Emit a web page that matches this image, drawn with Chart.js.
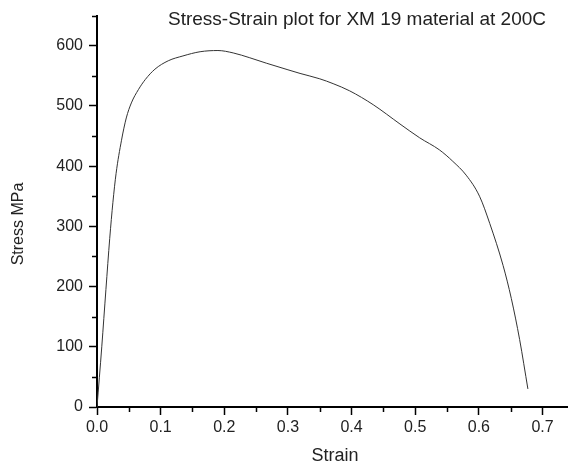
<!DOCTYPE html>
<html>
<head>
<meta charset="utf-8">
<script src="https://cdn.jsdelivr.net/npm/chart.js@4.4.1/dist/chart.umd.min.js"></script>
<style>
html,body{margin:0;padding:0;background:#fff;}
#wrap{width:568px;height:468px;}
</style>
</head>
<body>
<div id="wrap"><canvas id="c" width="568" height="468"></canvas></div>
<script>
const titleText = "Stress-Strain plot for XM 19 material at 200C";
const xAxisTitle = "Strain";
const yAxisTitle = "Stress MPa";
const strain = [0.0, 0.0075, 0.014, 0.020, 0.025, 0.030, 0.0385, 0.046, 0.054, 0.065, 0.076, 0.091, 0.112, 0.135, 0.162, 0.19, 0.214, 0.24, 0.266, 0.30, 0.319, 0.35, 0.371, 0.397, 0.434, 0.476, 0.507, 0.538, 0.559, 0.58, 0.601, 0.617, 0.638, 0.651, 0.664, 0.677];
const stress = [0, 100, 195, 280, 340, 388, 443, 480, 505, 527, 544, 561, 575, 583, 590, 592, 588, 580, 571, 560, 554, 545, 537, 525, 502, 470, 447, 427, 408, 385, 350, 305, 235, 180, 112, 30];
const xMajorTicks = [0.0, 0.1, 0.2, 0.3, 0.4, 0.5, 0.6, 0.7];
const xMinorTicks = [0.05, 0.15, 0.25, 0.35, 0.45, 0.55, 0.65];
const yMajorTicks = [0, 100, 200, 300, 400, 500, 600];
const yMinorTicks = [50, 150, 250, 350, 450, 550, 650];

const pts = strain.map((s, i) => ({x: s, y: stress[i]}));
const FONT = "'Liberation Sans', Arial, sans-serif";
const TXT = '#222';

const extrasPlugin = {
  id: 'extras',
  afterDraw(chart) {
    const ctx = chart.ctx;
    const xs = chart.scales.x, ys = chart.scales.y;
    const ca = chart.chartArea;
    ctx.save();
    ctx.strokeStyle = '#000';
    ctx.lineWidth = 1.5;
    ctx.beginPath();
    xMinorTicks.forEach(v => {
      const px = Math.round(xs.getPixelForValue(v)) + 0.5;
      ctx.moveTo(px, ca.bottom);
      ctx.lineTo(px, ca.bottom + 5);
    });
    yMinorTicks.forEach(v => {
      const py = Math.round(ys.getPixelForValue(v)) + 0.5;
      ctx.moveTo(ca.left, py);
      ctx.lineTo(ca.left - 5, py);
    });
    ctx.stroke();
    ctx.fillStyle = TXT;
    ctx.textBaseline = 'middle';
    // chart title
    ctx.font = "19px " + FONT;
    ctx.textAlign = 'right';
    ctx.fillText(titleText, ca.right - 22, 20);
    // x axis title
    ctx.font = "18px " + FONT;
    ctx.textAlign = 'center';
    ctx.fillText(xAxisTitle, 335, 456);
    // y axis title
    ctx.font = "16px " + FONT;
    ctx.translate(19, 224);
    ctx.rotate(-Math.PI / 2);
    ctx.fillText(yAxisTitle, 0, 0);
    ctx.restore();
  }
};

new Chart(document.getElementById('c'), {
  type: 'scatter',
  data: {
    datasets: [{
      data: pts,
      showLine: true,
      borderColor: '#333',
      borderWidth: 1,
      pointRadius: 0,
      cubicInterpolationMode: 'monotone',
      fill: false
    }]
  },
  options: {
    responsive: false,
    animation: false,
    devicePixelRatio: 1,
    layout: {padding: {top: 15, right: 0, left: 0, bottom: 0}},
    plugins: {legend: {display: false}, tooltip: {enabled: false}, title: {display: false}},
    scales: {
      x: {
        type: 'linear',
        min: 0,
        max: 0.74,
        afterBuildTicks: (s) => { s.ticks = xMajorTicks.map(v => ({value: v})); },
        afterFit: (s) => { s.height = 61; },
        border: {display: true, color: '#000', width: 2},
        grid: {drawOnChartArea: false, drawTicks: true, tickLength: 8, color: '#000', tickWidth: 1.5},
        ticks: {
          color: TXT,
          font: {family: FONT, size: 16},
          padding: 3,
          maxRotation: 0,
          callback: (v) => Number(v).toFixed(1)
        }
      },
      y: {
        type: 'linear',
        min: 0,
        max: 650,
        afterBuildTicks: (s) => { s.ticks = yMajorTicks.map(v => ({value: v})); },
        afterFit: (s) => { s.width = 97; },
        border: {display: true, color: '#000', width: 2},
        grid: {drawOnChartArea: false, drawTicks: true, tickLength: 8, color: '#000', tickWidth: 1.5},
        ticks: {
          color: TXT,
          font: {family: FONT, size: 16},
          padding: 6,
          callback: (v) => String(v)
        }
      }
    }
  },
  plugins: [extrasPlugin]
});
</script>
</body>
</html>
